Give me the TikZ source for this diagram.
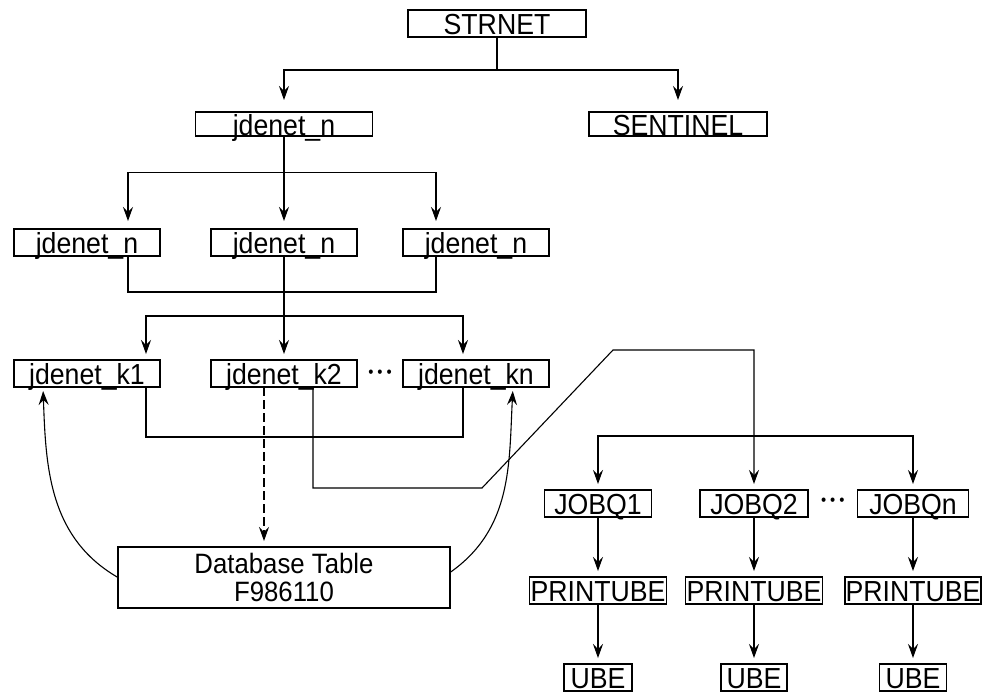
\documentclass[tikz,border=0pt]{standalone}
\usepackage{fontspec}
\setmainfont{Liberation Sans}[FakeStretch=0.92]
\usetikzlibrary{arrows.meta,positioning,calc}

\begin{document}
\begin{tikzpicture}[font=\fontsize{29}{28}\selectfont,
box/.style={draw,line width=1.1pt,outer sep=0pt,inner xsep=0pt,inner ysep=2.5pt,text height=22pt,text depth=0pt,minimum height=27pt},
flatbox/.style={box,inner ysep=1pt,minimum height=24pt},
dbbox/.style={draw,line width=1.1pt,outer sep=0pt,align=center,inner sep=0pt,minimum width=332pt,minimum height=61pt,font=\fontsize{28}{28}\selectfont},
dots/.style={font=\fontsize{16}{16}\selectfont,inner sep=0pt},
arr/.style={-{Stealth[length=14pt,width=10pt,inset=5pt]},line width=1.1pt,shorten >=6pt}]
\useasboundingbox (-497pt,23.5pt) rectangle (485pt,-670.5pt);
\node[box,minimum width=178pt] (strnet) {STRNET};
\node[flatbox,minimum width=177pt,below left=75pt and 35.5pt of strnet] (jdn) {jdenet\_n};
\node[flatbox,minimum width=178pt,right=216.5pt of jdn] (sentinel) {SENTINEL};
\node[box,minimum width=146pt,below left=93pt and 35.5pt of jdn] (n1) {jdenet\_n};
\node[box,minimum width=146pt,right=51pt of n1] (n2) {jdenet\_n};
\node[box,minimum width=146pt,right=46pt of n2] (n3) {jdenet\_n};
\node[box,minimum width=146pt,below=104pt of n1] (k1) {jdenet\_k1};
\node[box,minimum width=146pt,below=104pt of n2] (k2) {jdenet\_k2};
\node[box,minimum width=146pt,below=104pt of n3] (kn) {jdenet\_kn};
\node[dots] (kdots) at ($(k2.east)!0.5!(kn.west)$) {\textbullet\hspace{4pt}\textbullet\hspace{4pt}\textbullet};
\node[dbbox,below=160pt of k2] (db) {Database Table\\F986110};
\node[box,minimum width=107pt,below right=103pt and -4.5pt of kn] (q1) {JOBQ1};
\node[box,minimum width=108pt,right=48.5pt of q1] (q2) {JOBQ2};
\node[box,minimum width=111pt,right=49.5pt of q2] (qn) {JOBQn};
\node[dots,yshift=2pt] (qdots) at ($(q2.east)!0.5!(qn.west)$) {\textbullet\hspace{4pt}\textbullet\hspace{4pt}\textbullet};
\node[box,minimum width=137pt,below=60pt of q1] (p1) {PRINTUBE};
\node[box,minimum width=137pt,below=60pt of q2] (p2) {PRINTUBE};
\node[box,minimum width=136pt,below=60pt of qn] (p3) {PRINTUBE};
\node[box,minimum width=68pt,below=60pt of p1] (u1) {UBE};
\node[box,minimum width=66pt,below=60pt of p2] (u2) {UBE};
\node[box,minimum width=67pt,below=60pt of p3] (u3) {UBE};
% fork points
\coordinate (fk0) at ([yshift=-33pt]strnet.south);
\coordinate (fk1) at ([yshift=-36.5pt]jdn.south);
\coordinate (fk2) at ([yshift=-60pt]n2.south);
\coordinate (fk3) at ([yshift=54pt]q2.north);
\draw[arr,shorten >=12pt] (strnet) -- (fk0) -| (jdn);
\draw[arr,shorten >=12pt] (fk0) -| (sentinel);
\draw[arr,shorten >=8pt] (jdn) -- (n2);
\draw[arr,shorten >=8pt] (fk1) -| ([xshift=41pt]n1.north);
\draw[arr,shorten >=8pt] (fk1) -| ([xshift=-40pt]n3.north);
\draw[line width=1.1pt] ([xshift=41pt]n1.south) -- ++(0,-36pt) -| ([xshift=-40pt]n3.south);
\draw[arr] (n2) -- (k2);
\draw[arr] (fk2) -| ([xshift=59pt]k1.north);
\draw[arr] (fk2) -| ([xshift=-13pt]kn.north);
\draw[line width=1.1pt] ([xshift=59pt]k1.south) -- ++(0,-50pt) -| ([xshift=-13pt]kn.south);
\draw[arr] ([xshift=29pt]k2.south) -- ++(0,-101pt) -- ++(169pt,0) -- ++(131pt,138pt) -| (q2);
\draw[arr,dashed,dash pattern=on 9pt off 4pt] ([xshift=-20pt]k2.south) -- ([xshift=-20pt]db.north);
\draw[arr,shorten >=4pt] (db.west) to[out=150,in=-88] ([xshift=-44pt]k1.south);
\draw[arr,shorten >=4pt] ([yshift=5pt]db.east) to[out=35,in=-93] ([xshift=37pt]kn.south);
\draw[arr] (fk3) -| (q1);
\draw[arr] (fk3) -| (qn);
\draw[arr] (q1) -- (p1);
\draw[arr] (q2) -- (p2);
\draw[arr] (qn) -- (p3);
\draw[arr] (p1) -- (u1);
\draw[arr] (p2) -- (u2);
\draw[arr] (p3) -- (u3);
\end{tikzpicture}
\end{document}
